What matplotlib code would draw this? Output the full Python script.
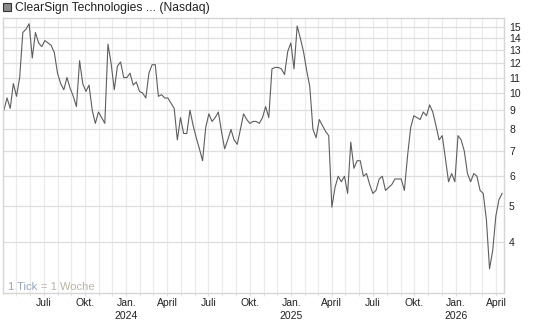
# ClearSign Technologies weekly chart (Nasdaq), log scale
import matplotlib
matplotlib.use("Agg")
import matplotlib.pyplot as plt, numpy as np, pandas as pd
from matplotlib.patches import Rectangle
from matplotlib.ticker import FixedLocator, NullFormatter

plt.rcParams['font.family'] = ['Liberation Sans', 'DejaVu Sans']

# weekly closes (2023-04-04 .. 2026-04-14)
prices = [
    9.0, 9.7, 9.1, 10.6, 9.8, 11.0, 14.5, 14.8, 15.3, 12.4,
    14.5, 13.6, 13.3, 13.8, 13.6, 13.4, 12.8, 11.3, 10.6, 10.2,
    11.0, 10.3, 9.8, 9.2, 12.2, 10.6, 10.1, 10.5, 9.0, 8.3,
    8.9, 8.6, 8.3, 13.5, 12.0, 10.2, 11.8, 12.1, 11.0, 11.0,
    11.3, 10.5, 10.7, 10.1, 10.0, 9.7, 11.3, 11.9, 11.9, 9.8,
    9.9, 9.7, 9.7, 9.4, 9.1, 7.5, 8.6, 7.8, 7.8, 9.0,
    8.2, 7.6, 7.1, 6.6, 8.1, 8.8, 8.4, 8.6, 8.9, 7.9,
    7.1, 7.5, 8.0, 7.5, 7.3, 8.0, 8.8, 8.5, 8.3, 8.4,
    8.4, 8.3, 8.6, 9.2, 8.6, 11.6, 11.7, 11.7, 11.6, 11.2,
    12.9, 13.6, 11.6, 15.1, 14.0, 12.9, 11.5, 10.4, 8.0, 7.6,
    8.5, 8.2, 7.9, 7.7, 4.96, 5.6, 6.0, 5.8, 6.0, 5.4,
    7.4, 6.3, 6.6, 6.6, 6.0, 6.1, 5.7, 5.4, 5.5, 5.9,
    6.0, 5.5, 5.6, 5.7, 5.9, 5.9, 5.9, 5.5, 6.8, 8.1,
    8.7, 8.6, 8.5, 8.9, 8.7, 9.3, 8.9, 8.2, 7.5, 7.7,
    6.7, 5.8, 6.1, 5.8, 7.7, 7.5, 7.0, 6.1, 5.8, 6.1,
    6.0, 5.5, 5.4, 4.6, 3.4, 3.8, 4.7, 5.2, 5.4,
]
dates = pd.date_range(end="2026-04-14", periods=len(prices), freq="7D")

y_ticks = [4, 5, 6, 7, 8, 9, 10, 11, 12, 13, 14, 15]
quarter_ticks = ["2023-07-01", "2023-10-01", "2024-01-01", "2024-04-01",
                 "2024-07-01", "2024-10-01", "2025-01-01", "2025-04-01",
                 "2025-07-01", "2025-10-01", "2026-01-01", "2026-04-01"]
quarter_labels = ["Juli", "Okt.", "Jan.\n2024", "April", "Juli", "Okt.",
                  "Jan.\n2025", "April", "Juli", "Okt.", "Jan.\n2026", "April"]

W, H = 545, 327
fig = plt.figure(figsize=(W/100, H/100), dpi=100)
ax = fig.add_axes([3/W, (H-293)/H, 500.5/W, 275.5/H])

ax.plot(dates, prices, color="#5e5e5e", lw=0.8)

ax.set_yscale("log")
ax.set_ylim(2.93, 15.9)
ax.set_xlim(pd.Timestamp("2023-04-02"), pd.Timestamp("2026-04-17"))

ax.yaxis.set_major_locator(FixedLocator(y_ticks))
ax.set_yticklabels([str(v) for v in y_ticks])
ax.yaxis.set_minor_formatter(NullFormatter())
ax.yaxis.set_minor_locator(FixedLocator([]))
ax.yaxis.tick_right()
ax.tick_params(axis="y", length=0, pad=4, labelsize=7.5, colors="#222222")

months = pd.date_range("2023-05-01", "2026-04-01", freq="MS")
ax.set_xticks(months, minor=True)
ax.set_xticks(pd.to_datetime(quarter_ticks))
ax.set_xticklabels(quarter_labels)
for lab in ax.get_xticklabels():
    lab.set_linespacing(1.45)
    lab.set_verticalalignment("top")
ax.tick_params(axis="x", which="both", length=2, color="#dddddd", pad=1.5,
               labelsize=7.5, labelcolor="#222222")

ax.grid(True, axis="x", which="both", color="#ebebeb", lw=0.9)
ax.grid(True, axis="y", which="major", color="#dedede", lw=0.9)
ax.set_axisbelow(True)
for s in ax.spines.values():
    s.set_color("#d6d6d6")
    s.set_linewidth(1.0)

t1 = ax.text(5/500.5, 6/275.5, "1 Tick", transform=ax.transAxes, fontsize=8,
             color="#93a4bd", va="center", ha="left")
ax.annotate("= 1 Woche", xy=(1, 0.5), xycoords=t1, xytext=(2.5, 0),
            textcoords="offset points", fontsize=8, color="#b9b3a6",
            va="center", ha="left")

# legend square + title
fig.patches.append(Rectangle((3/W, (H-11)/H), 8/W, 8/H, transform=fig.transFigure,
                             facecolor="#8a8a8a", edgecolor="#333333", lw=0.8))
fig.text(15/W, (H-7.5)/H, "ClearSign Technologies ... (Nasdaq)", fontsize=8.7,
         color="#222222", va="center", ha="left")

fig.savefig("out.png", dpi=100)
